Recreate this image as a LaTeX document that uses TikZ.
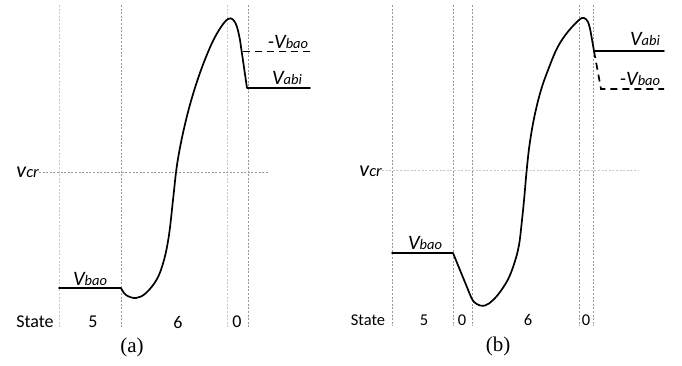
\documentclass[tikz,border=0pt]{standalone}
\usepackage{fontspec}
\setmainfont{Liberation Serif}
\newfontfamily\calfont{Carlito}
\newcommand{\Vlab}[2]{{\calfont\itshape\fontsize{20.5}{20}\selectfont #1\fontsize{14.5}{14}\selectfont\raisebox{-0.5pt}{#2}}}
\newcommand{\vcrlab}{{\calfont\itshape\fontsize{22}{20}\selectfont v\fontsize{16.5}{15}\selectfont cr}}
\tikzset{
  gridlight/.style={draw=gray!45, line width=0.8pt, dash pattern=on 2pt off 1.6pt},
  griddark/.style={draw=gray!80, line width=0.8pt, dash pattern=on 2pt off 1.6pt},
  curve/.style={draw=black, line width=1.7pt, line join=round, line cap=round},
  dashcurve/.style={draw=black, line width=1.7pt, dash pattern=on 7pt off 5pt},
  lab/.style={inner sep=0pt, anchor=center},
  stlab/.style={inner sep=0pt, anchor=center, font=\calfont\fontsize{18}{18}\selectfont},
  stlabb/.style={inner sep=0pt, anchor=center, font=\calfont\fontsize{16.5}{17}\selectfont},
  captionlab/.style={inner sep=0pt, anchor=center, font=\fontsize{21}{22}\selectfont}
}
\begin{document}
\begin{tikzpicture}[x=1pt,y=-1pt]
\path[use as bounding box, fill=white] (0,0) rectangle (682,365);

% ---------- panel (a) ----------
\draw[gridlight] (59,5) -- (59,328);
\draw[griddark] (121,5) -- (121,328);
\draw[gridlight] (227,5) -- (227,328);
\draw[griddark] (248,5) -- (248,328);
\node[lab, anchor=east] (vcra) at (39,172) {\vcrlab};
\coordinate (vcraend) at (268,172);
\draw[griddark] (vcra.east) -- (vcraend);

\draw[curve] (59,288) -- (121,288)
  plot[smooth, tension=0.6] coordinates {(121,288) (126,295) (136,298) (146,293) (157,279) (164,260) (169,235) (173,200) (177,165) (183,133) (191,101) (201,70) (212,43) (221,27) (228,19) (233,19.5) (237,27) (240,40)}
  -- (247,88) -- (310,88);
\draw[dashcurve, dash phase=0pt] (243,51.5) -- (313,51.5);

\node[lab] (vbaoa) at (90,279) {\Vlab{V}{bao}};
\node[lab] (vabia) at (287,78) {\Vlab{V}{abi}};
\node[lab] (mvbaoa) at (288,42) {\Vlab{-V}{bao}};

\node[stlab] (sta) at (35,322) {State};
\node[stlab] (s5a) at (93,322) {5};
\node[stlab] (s6a) at (178,322) {6};
\node[stlab] (s0a) at (237,322) {0};
\node[captionlab] (capa) at (132,347) {(a)};

% ---------- panel (b) ----------
\draw[griddark] (392,5) -- (392,326);
\draw[griddark] (453,5) -- (453,326);
\draw[griddark] (472,5) -- (472,326);
\draw[griddark] (579,5) -- (579,326);
\draw[griddark] (593,5) -- (593,326);
\node[lab, anchor=east] (vcrb) at (382,171) {\vcrlab};
\coordinate (vcrbend) at (639,170);
\draw[gridlight] (vcrb.east |- vcrbend) -- (vcrbend);

\draw[curve] (392,253) -- (453,253) -- (471,297)
  plot[smooth, tension=0.6] coordinates {(471,297) (474,302) (480,305.5) (485,305.5) (489,303.5) (497.7,295) (507.7,280) (514.3,263.3) (519,245) (522,220) (524.5,195) (526.5,172) (529.5,145) (534.3,117) (541,90) (549.3,66.7) (557.7,47) (567.7,32) (579,20) (584,18) (588,22) (590.5,31)}
  -- (594,51) -- (664,51);
\draw[dashcurve] (594,51) -- (601,89) -- (664,89);

\node[lab] (vbaob) at (425,243) {\Vlab{V}{bao}};
\node[lab] (vabib) at (645,39) {\Vlab{V}{abi}};
\node[lab] (mvbaob) at (640,79) {\Vlab{-V}{bao}};

\node[stlabb] (stb) at (368,320) {State};
\node[stlabb] (s5b) at (424,320) {5};
\node[stlabb] (s0b) at (462,320) {0};
\node[stlabb] (s6b) at (528,320) {6};
\node[stlabb] (s0bb) at (586,320) {0};
\node[captionlab] (capb) at (498,346) {(b)};
\end{tikzpicture}
\end{document}
